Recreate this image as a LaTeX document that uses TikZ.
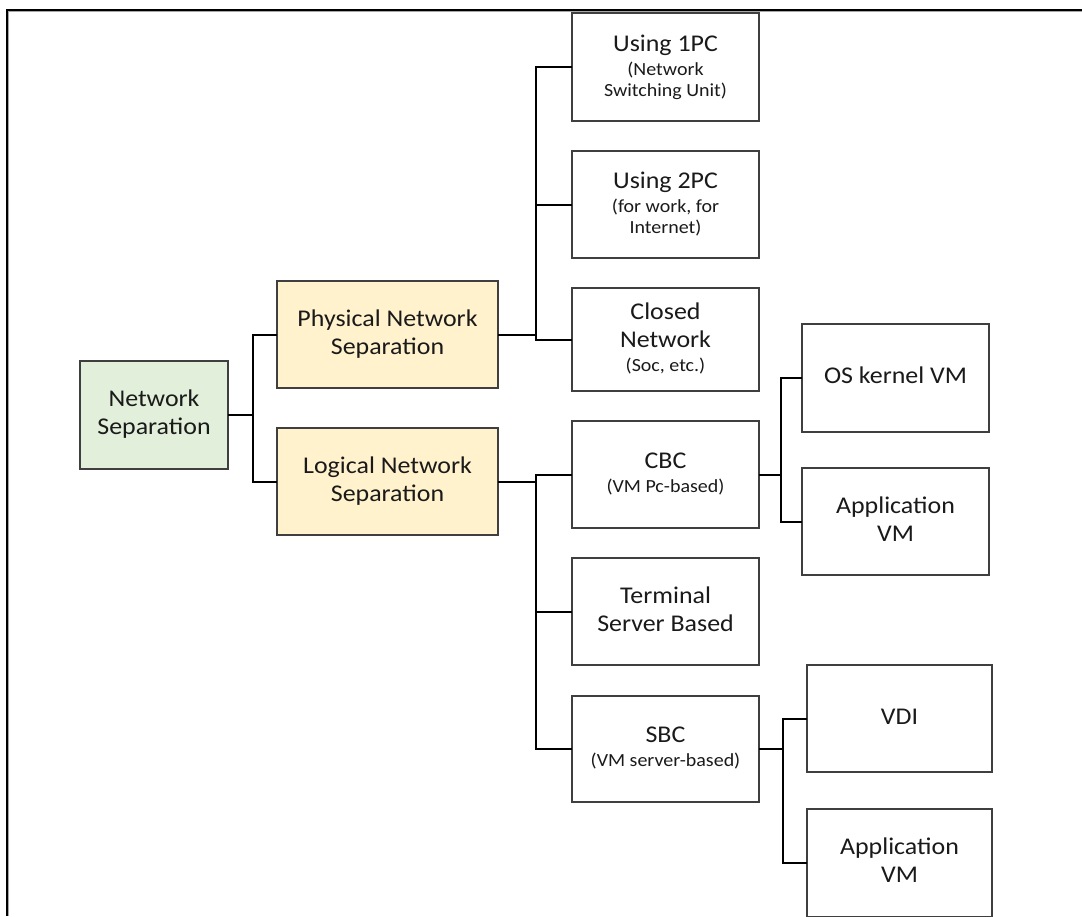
\documentclass[tikz,border=0pt]{standalone}
\usepackage{fontspec}
\setmainfont{Carlito}[FakeStretch=1.08]
\newcommand\mainf{\fontsize{24}{28}\selectfont}
\newcommand\subf{\fontsize{18.5}{21}\selectfont}
\newcommand\onel[1]{\mainf\begin{tabular}{@{}c@{}}#1\end{tabular}}
\newcommand\twol[2]{\mainf\begin{tabular}{@{}c@{}}#1\\[-4pt]\subf\begin{tabular}[t]{@{}c@{}}#2\end{tabular}\end{tabular}}
\definecolor{boxgray}{HTML}{3F3F3F}
\definecolor{textc}{HTML}{1A1A1A}
\definecolor{greenfill}{HTML}{E2EFDA}
\definecolor{yellowfill}{HTML}{FFF2CC}
\begin{document}
\begin{tikzpicture}[x=1pt,y=-1pt,
  box/.style={draw=boxgray, line width=1.3pt, inner sep=0pt, outer sep=0pt, text=textc, anchor=center, fill=white},
  colbox/.style={box, minimum width=187pt, minimum height=107pt},
  conn/.style={draw=black, line width=2pt}]
\useasboundingbox (0,0) rectangle (1082,916);
\fill[white] (0,0) rectangle (1082,916);
% frame
\draw[line width=1pt, gray!70] (8.5,916) -- (8.5,11.5) -- (1082,11.5);
\draw[line width=2pt, black] (7,916) -- (7,10) -- (1082,10);

\node[box, fill=greenfill, minimum width=148pt, minimum height=108pt] (ns) at (154,415) {\onel{Network\\Separation}};
\node[box, fill=yellowfill, minimum width=221pt, minimum height=107pt] (phys) at (387.5,334.5) {\onel{Physical Network\\Separation}};
\node[box, fill=yellowfill, minimum width=221pt, minimum height=107pt] (log) at (387.5,481.5) {\onel{Logical Network\\Separation}};

\node[colbox, minimum height=108pt] (pc1) at (665.5,67) {\twol{Using 1PC}{(Network\\Switching Unit)}};
\node[colbox] (pc2) at (665.5,204.5) {\twol{Using 2PC}{(for work, for\\Internet)}};
\node[colbox, minimum height=103pt] (closed) at (665.5,339.5) {\twol{Closed\\Network}{(Soc, etc.)}};
\node[colbox] (cbc) at (665.5,474.5) {\twol{CBC}{(VM Pc-based)}};
\node[colbox] (term) at (665.5,611.5) {\onel{Terminal\\Server Based}};
\node[colbox, minimum height=106pt] (sbc) at (665.5,749) {\twol{SBC}{(VM server-based)}};

\node[colbox, minimum height=108pt] (os) at (895.5,378) {\onel{OS kernel VM}};
\node[colbox] (app1) at (895.5,521.5) {\onel{Application\\VM}};
\node[colbox, minimum width=185pt] (vdi) at (899.5,718.5) {\onel{VDI}};
\node[colbox, minimum width=185pt, minimum height=108pt] (app2) at (899.5,863) {\onel{Application\\VM}};

\draw[conn] (ns.east) -- ++(25,0) coordinate (j1);
\draw[conn] (phys.west) -| (j1) |- (log.west);
\draw[conn] (phys.east) -- ++(38,0) coordinate (j2);
\draw[conn] (pc1.west) -| (j2) |- (closed.west);
\draw[conn] (pc2.west) -- (pc2.west -| j2);
\draw[conn] (log.east) -- ++(38,0) coordinate (j3);
\draw[conn] (cbc.west) -| (j3) |- (sbc.west);
\draw[conn] (term.west) -- (term.west -| j3);
\draw[conn] (cbc.east) -- ++(22,0) coordinate (j4);
\draw[conn] (os.west) -| (j4) |- (app1.west);
\draw[conn] (sbc.east) -- ++(24,0) coordinate (j5);
\draw[conn] (vdi.west) -| (j5) |- (app2.west);
\end{tikzpicture}
\end{document}
